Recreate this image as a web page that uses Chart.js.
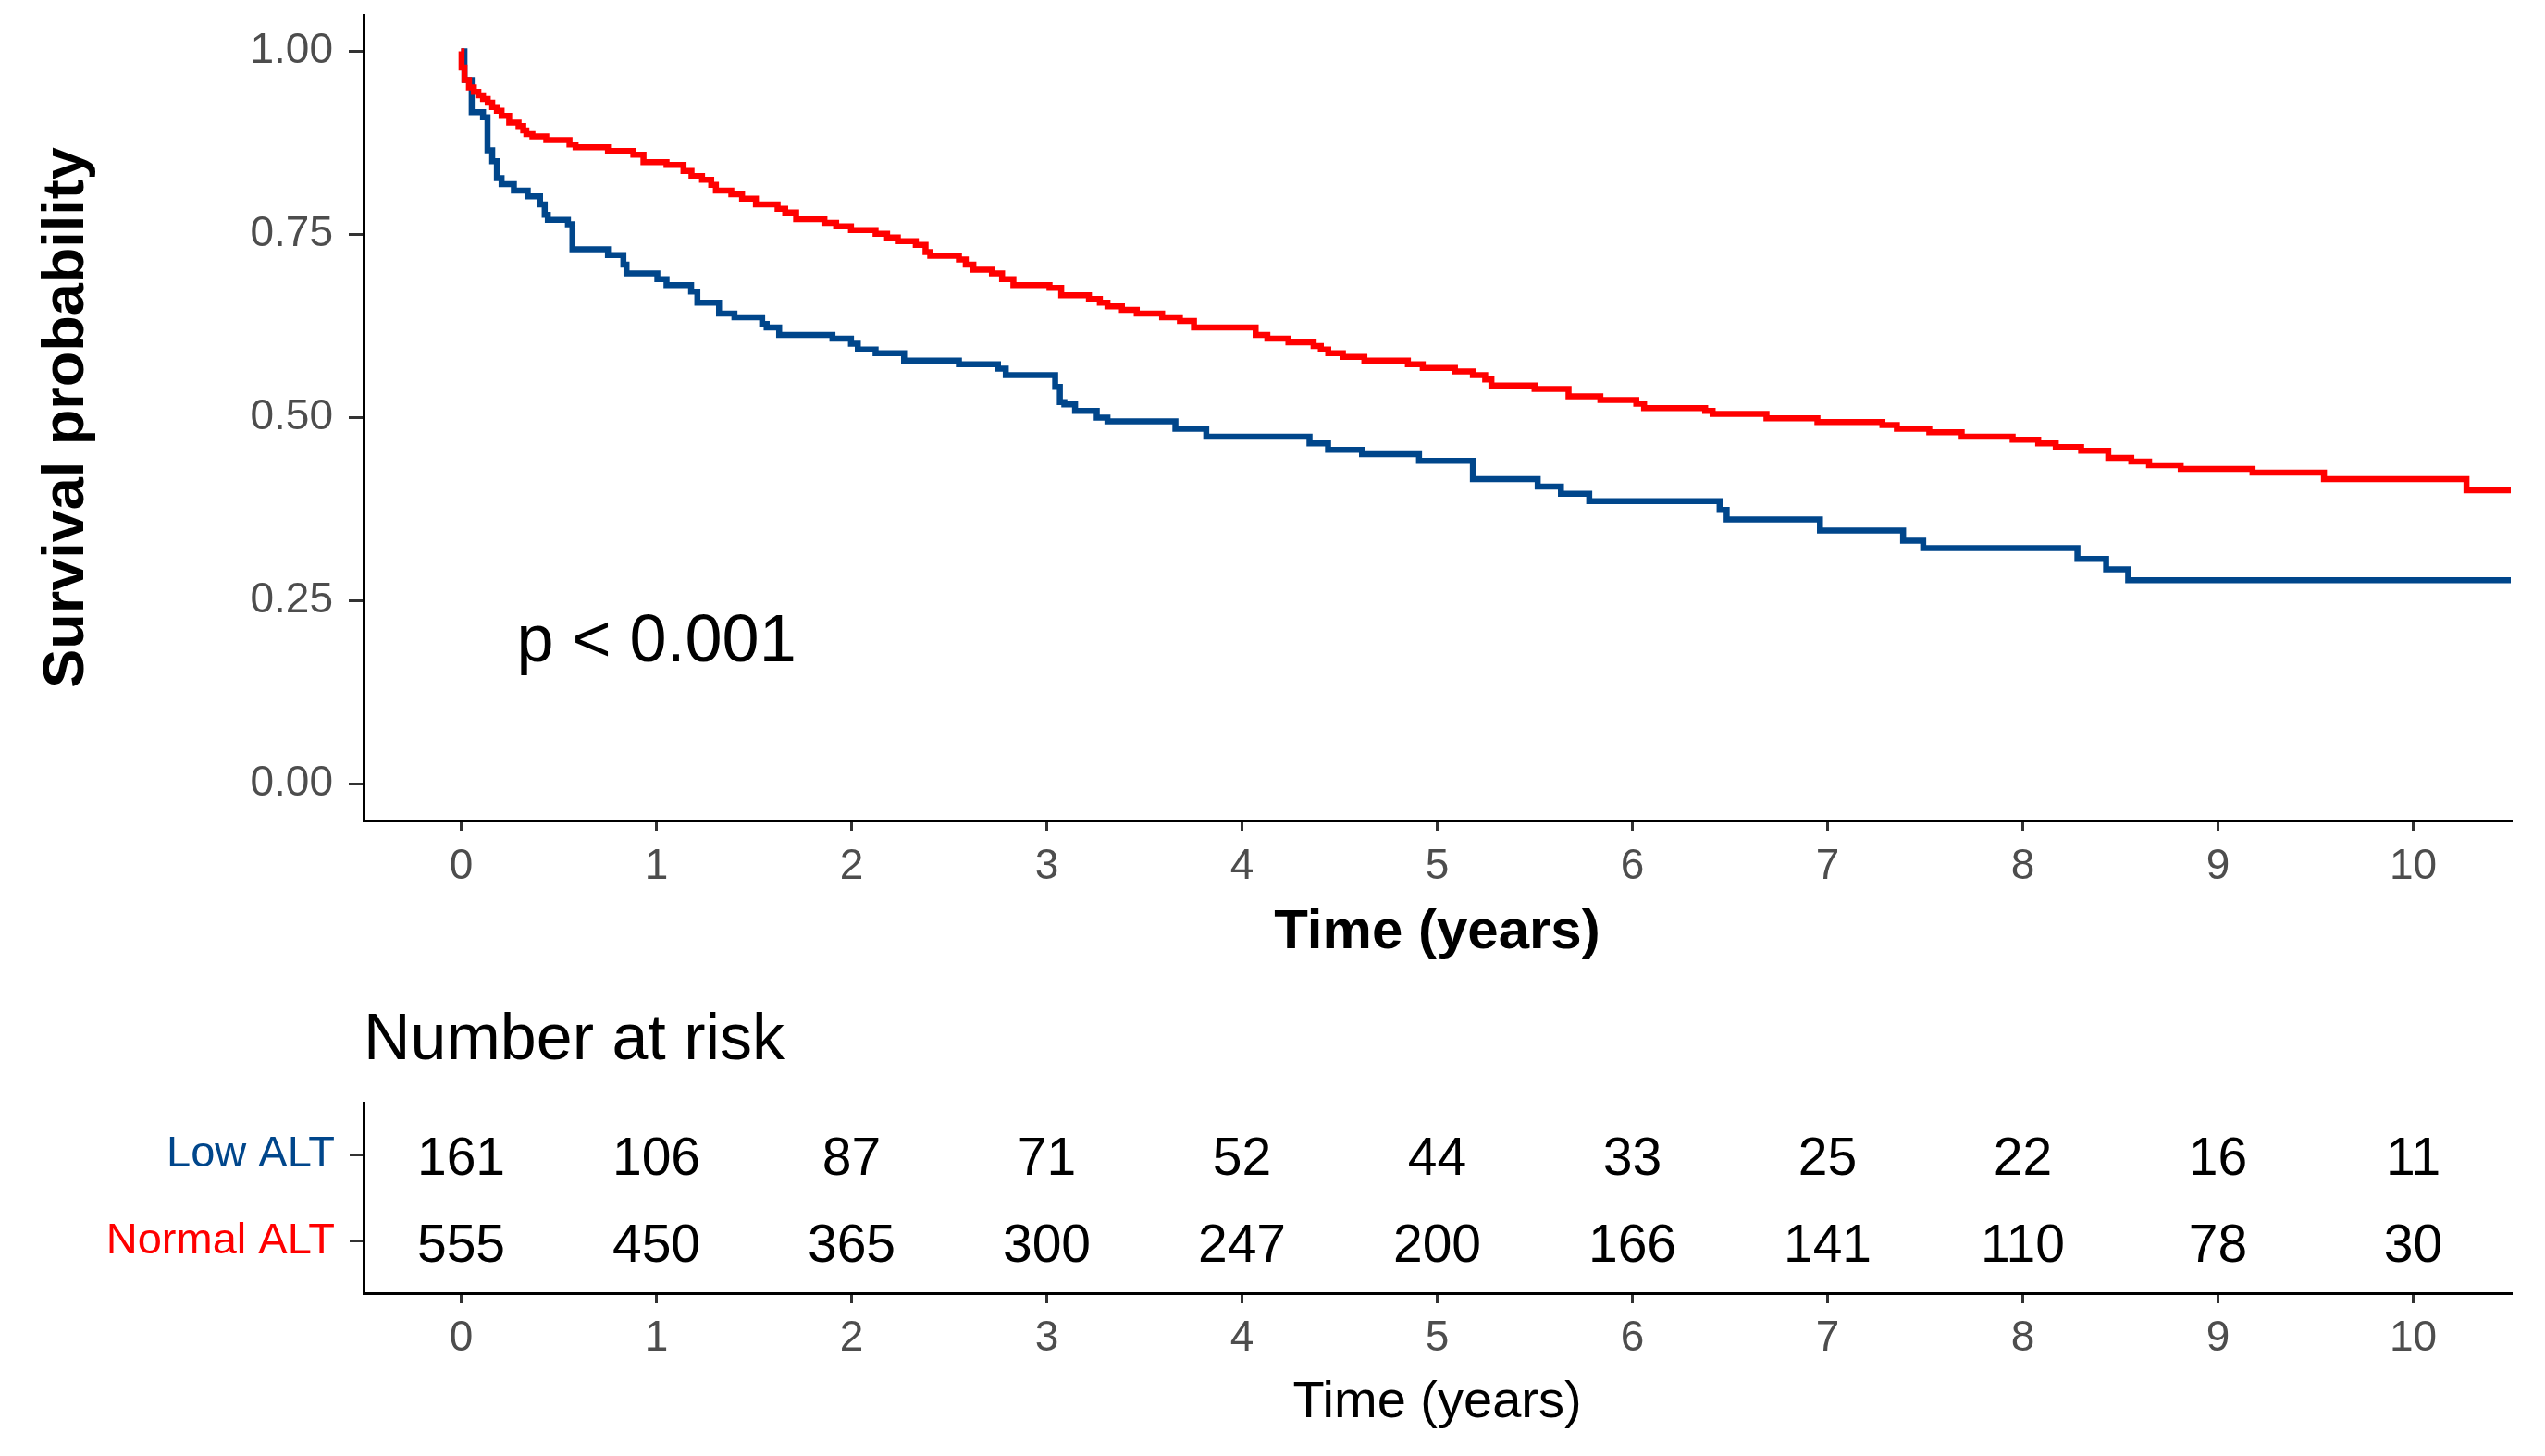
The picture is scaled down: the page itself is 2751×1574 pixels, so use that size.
<!DOCTYPE html>
<html><head><meta charset="utf-8">
<script src="https://cdn.jsdelivr.net/npm/chart.js@4.4.1/dist/chart.umd.min.js"></script>
<style>
html,body{margin:0;padding:0;background:#fff;}
#wrap{position:relative;width:2751px;height:1574px;background:#fff;overflow:hidden}
canvas{position:absolute;left:0}
#c1{top:0}
#c2{top:1062px}
</style></head><body>
<div id="wrap"><canvas id="c1" width="2751" height="1062"></canvas><canvas id="c2" width="2751" height="512"></canvas></div>
<script>
// ---------- data ----------
const normalTimes = [0,0.002,0.017,0.040,0.065,0.088,0.112,0.136,0.159,0.183,0.207,0.246,0.294,0.318,0.334,0.365,0.436,0.555,0.586,0.752,0.882,0.934,1.052,1.139,1.18,1.234,1.281,1.305,1.384,1.439,1.510,1.621,1.660,1.716,1.861,1.921,1.997,2.123,2.182,2.237,2.329,2.379,2.403,2.550,2.585,2.624,2.719,2.771,2.829,3.014,3.074,3.216,3.272,3.311,3.385,3.461,3.591,3.682,3.754,4.070,4.130,4.238,4.367,4.404,4.442,4.517,4.627,4.850,4.926,5.091,5.183,5.246,5.278,5.499,5.673,5.836,6.020,6.060,6.373,6.411,6.687,6.948,7.281,7.355,7.521,7.687,7.948,8.079,8.169,8.299,8.438,8.556,8.647,8.809,9.177,9.543,10.273,10.5];
const normalSurv = [1.0,0.978,0.961,0.951,0.945,0.940,0.935,0.930,0.924,0.919,0.912,0.903,0.898,0.892,0.887,0.884,0.879,0.873,0.869,0.864,0.859,0.849,0.845,0.837,0.830,0.825,0.818,0.810,0.805,0.799,0.791,0.785,0.780,0.771,0.766,0.761,0.756,0.751,0.746,0.741,0.736,0.726,0.721,0.716,0.709,0.702,0.697,0.689,0.681,0.677,0.667,0.662,0.657,0.652,0.647,0.642,0.637,0.632,0.623,0.613,0.608,0.603,0.598,0.593,0.588,0.583,0.578,0.573,0.568,0.563,0.558,0.552,0.544,0.539,0.529,0.524,0.519,0.513,0.509,0.505,0.499,0.494,0.490,0.485,0.480,0.474,0.470,0.465,0.460,0.455,0.445,0.440,0.435,0.430,0.425,0.416,0.401,0.401];
const lowTimes = [0,0.017,0.054,0.112,0.135,0.159,0.183,0.207,0.270,0.341,0.404,0.428,0.444,0.547,0.570,0.752,0.831,0.847,1.005,1.052,1.178,1.210,1.321,1.400,1.542,1.565,1.629,1.902,1.997,2.032,2.123,2.269,2.550,2.750,2.790,3.043,3.067,3.090,3.145,3.256,3.311,3.659,3.817,4.346,4.441,4.615,4.907,5.183,5.515,5.634,5.779,6.447,6.483,6.961,7.387,7.490,8.280,8.427,8.540,10.5];
const lowSurv = [1.0,0.961,0.917,0.910,0.865,0.850,0.827,0.819,0.810,0.802,0.791,0.777,0.770,0.764,0.730,0.722,0.709,0.697,0.689,0.681,0.672,0.657,0.642,0.637,0.628,0.623,0.613,0.608,0.601,0.593,0.588,0.578,0.573,0.567,0.558,0.542,0.521,0.518,0.509,0.500,0.495,0.485,0.474,0.465,0.456,0.450,0.441,0.416,0.406,0.396,0.386,0.374,0.361,0.346,0.332,0.322,0.307,0.293,0.278,0.278];

const timeTicks = [0,1,2,3,4,5,6,7,8,9,10];
const survTicks = [0,0.25,0.5,0.75,1];
const riskGroups = ['Low ALT','Normal ALT'];
const lowRisk = [161,106,87,71,52,44,33,25,22,16,11];
const normalRisk = [555,450,365,300,247,200,166,141,110,78,30];
const pvalText = 'p < 0.001';

// ---------- styling ----------
const FONT = '"Liberation Sans", Arial, Helvetica, sans-serif';
const BLUE = '#00468B';
const RED = '#FF0000';
const pvalAt = {x: 0.284, y: 0.192};
const riskTextShift = 6;
Chart.defaults.font.family = FONT;

const zip = (ts, vs) => ts.map((t, i) => ({x: t, y: vs[i]}));
const noPad = s => { s.paddingTop = 0; s.paddingBottom = 0; s.paddingLeft = 0; s.paddingRight = 0; };

const pvalPlugin = {
  id: 'pval',
  afterDatasetsDraw(chart) {
    const {ctx, scales: {x, y}} = chart;
    ctx.save();
    ctx.font = '72px ' + FONT;
    ctx.fillStyle = '#000';
    ctx.textAlign = 'left';
    ctx.textBaseline = 'middle';
    ctx.fillText(pvalText, x.getPixelForValue(pvalAt.x), y.getPixelForValue(pvalAt.y));
    ctx.restore();
  }
};

new Chart(document.getElementById('c1'), {
  type: 'line',
  data: {
    datasets: [
      {label: 'Normal ALT', data: zip(normalTimes, normalSurv), stepped: 'before', borderColor: RED, borderWidth: 6.5, pointRadius: 0, fill: false, borderCapStyle: 'butt'},
      {label: 'Low ALT', data: zip(lowTimes, lowSurv), stepped: 'before', borderColor: BLUE, borderWidth: 6.5, pointRadius: 0, fill: false, borderCapStyle: 'butt'}
    ]
  },
  options: {
    responsive: false, animation: false, devicePixelRatio: 1,
    layout: {padding: {left: 0, right: 37, top: 16, bottom: 0}},
    plugins: {legend: {display: false}, tooltip: {enabled: false}, title: {display: false}},
    scales: {
      x: {
        type: 'linear', min: -0.5, max: 10.5,
        afterBuildTicks: s => { s.ticks = timeTicks.map(v => ({value: v})); },
        afterFit: s => { s.height = 175; noPad(s); },
        ticks: {color: '#4D4D4D', font: {size: 46}, padding: 12, autoSkip: false, maxRotation: 0, callback: v => String(v)},
        grid: {drawOnChartArea: false, drawTicks: true, tickLength: 11, color: '#333', lineWidth: 3},
        border: {display: true, color: '#000', width: 3},
        title: {display: true, text: 'Time (years)', color: '#000', font: {size: 60, weight: 'bold'}, padding: {top: 0, bottom: 18}}
      },
      y: {
        type: 'linear', min: -0.05, max: 1.05,
        afterBuildTicks: s => { s.ticks = survTicks.map(v => ({value: v})); },
        afterFit: s => { s.width = 393; noPad(s); },
        ticks: {color: '#4D4D4D', font: {size: 46}, padding: 17, autoSkip: false, callback: v => Number(v).toFixed(2)},
        grid: {drawOnChartArea: false, drawTicks: true, tickLength: 16, color: '#333', lineWidth: 3},
        border: {display: true, color: '#000', width: 3},
        title: {display: true, text: 'Survival probability', color: '#000', font: {size: 63, weight: 'bold'}, padding: {top: 35, bottom: 0}}
      }
    }
  },
  plugins: [pvalPlugin]
});

// ---------- risk table ----------
const riskPlugin = {
  id: 'riskNumbers',
  afterDatasetsDraw(chart) {
    const {ctx} = chart;
    const tables = [lowRisk, normalRisk];
    ctx.save();
    ctx.font = '57px ' + FONT;
    ctx.fillStyle = '#000';
    ctx.textAlign = 'center';
    ctx.textBaseline = 'middle';
    chart.data.datasets.forEach((ds, di) => {
      const meta = chart.getDatasetMeta(di);
      meta.data.forEach((pt, j) => {
        ctx.fillText(String(tables[di][j]), pt.x, pt.y + riskTextShift);
      });
    });
    ctx.restore();
  }
};

const groupValue = [2, 1];
new Chart(document.getElementById('c2'), {
  type: 'scatter',
  data: {
    datasets: [
      {label: riskGroups[0], data: timeTicks.map(t => ({x: t, y: groupValue[0]})), pointRadius: 0, showLine: false},
      {label: riskGroups[1], data: timeTicks.map(t => ({x: t, y: groupValue[1]})), pointRadius: 0, showLine: false}
    ]
  },
  options: {
    responsive: false, animation: false, devicePixelRatio: 1,
    layout: {padding: {left: 0, right: 37, top: 0, bottom: 0}},
    plugins: {
      legend: {display: false}, tooltip: {enabled: false},
      title: {display: true, text: 'Number at risk', align: 'start', fullSize: false, color: '#000', font: {size: 70, weight: 'normal'}, padding: {top: 22, bottom: 24}}
    },
    scales: {
      x: {
        type: 'linear', min: -0.5, max: 10.5,
        afterBuildTicks: s => { s.ticks = timeTicks.map(v => ({value: v})); },
        afterFit: s => { s.height = 176; noPad(s); },
        ticks: {color: '#4D4D4D', font: {size: 46}, padding: 11, autoSkip: false, maxRotation: 0, callback: v => String(v)},
        grid: {drawOnChartArea: false, drawTicks: true, tickLength: 11, color: '#333', lineWidth: 3},
        border: {display: true, color: '#000', width: 3},
        title: {display: true, text: 'Time (years)', color: '#000', font: {size: 56}, padding: {top: 0, bottom: 24}}
      },
      y: {
        type: 'linear', min: 0.4, max: 2.6,
        afterBuildTicks: s => { s.ticks = groupValue.map(v => ({value: v})); },
        afterFit: s => { s.width = 393; noPad(s); },
        ticks: {
          font: {size: 47}, padding: 16, autoSkip: false,
          callback: v => riskGroups[groupValue.indexOf(v)],
          color: c => (c.tick && c.tick.value === groupValue[0]) ? BLUE : RED
        },
        grid: {drawOnChartArea: false, drawTicks: true, tickLength: 15, color: '#333', lineWidth: 3},
        border: {display: true, color: '#000', width: 3}
      }
    }
  },
  plugins: [riskPlugin]
});
</script>
</body></html>
